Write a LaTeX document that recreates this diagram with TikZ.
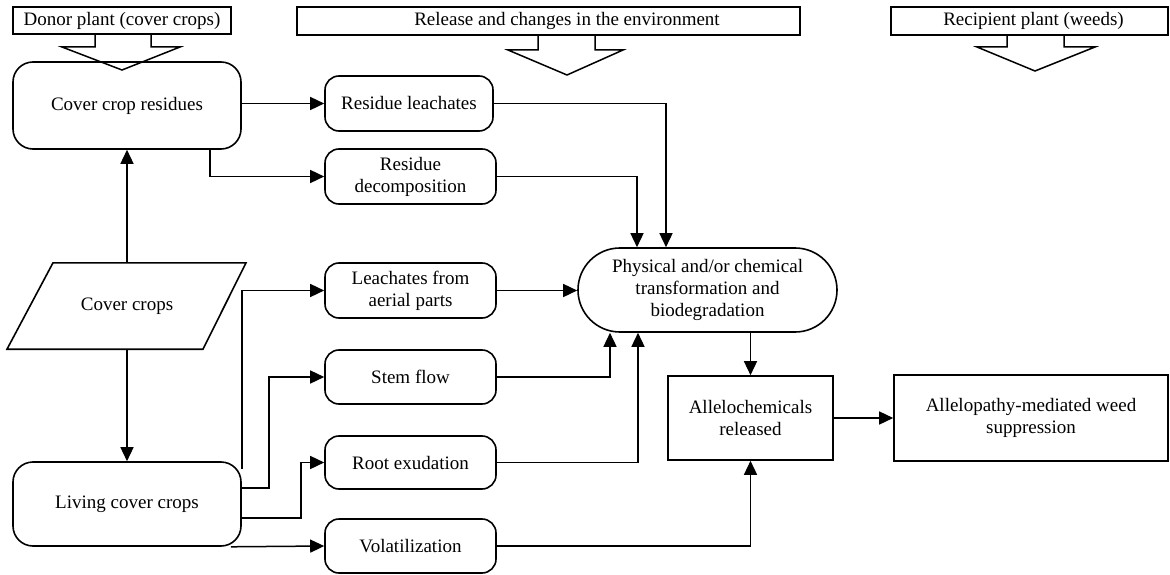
\documentclass[tikz,border=0pt]{standalone}
\usepackage{fontspec}
\setmainfont{Liberation Serif}
\usetikzlibrary{arrows.meta}
\begin{document}
\begin{tikzpicture}[x=1pt,y=-1pt,
  every node/.style={font=\fontsize{19}{22}\selectfont, align=center, inner sep=0pt},
  hdr/.style={draw, line width=1.5pt, rectangle},
  rbox/.style={draw, line width=1.6pt, rounded corners=14pt},
  bigr/.style={draw, line width=1.6pt, rounded corners=20pt},
  sq/.style={draw, line width=1.6pt},
  arr/.style={line width=1.5pt, -{Triangle[length=14pt,width=13pt]}},
  ln/.style={line width=1.5pt}]
\useasboundingbox (0,0) rectangle (1170,575);

% header boxes
\node[hdr, minimum width=218pt, minimum height=27pt] (donor) at (122,20.5) {Donor plant (cover crops)};
\node[hdr, minimum width=503pt, minimum height=28pt] (release) at (548.5,21) {\hspace*{37pt}Release and changes in the environment};
\node[hdr, minimum width=277pt, minimum height=28pt] (recip) at (1029.5,21) {\hspace*{8pt}Recipient plant (weeds)};

% main nodes
\node[bigr, minimum width=228pt, minimum height=87pt] (ccr) at (127,105.5) {Cover crop residues};
\node[rbox, minimum width=168pt, minimum height=55pt] (rl) at (409,103.5) {Residue leachates};
\node[rbox, minimum width=171pt, minimum height=55pt] (rd) at (410.5,176.5) {Residue\\decomposition};
\node[minimum width=150pt, minimum height=86pt] (cc) at (127,306) {Cover crops};
\draw[line width=1.6pt] ([xshift=-74pt]cc.north) -- ([xshift=119pt]cc.north) -- ([xshift=76pt]cc.south) -- ([xshift=-120pt]cc.south) -- cycle;
\node[bigr, minimum width=228pt, minimum height=84pt] (lcc) at (127,504) {Living cover crops};
\node[rbox, minimum width=171pt, minimum height=55pt] (la) at (410.5,290.5) {Leachates from\\aerial parts};
\node[rbox, minimum width=171pt, minimum height=54pt] (sf) at (410.5,377) {Stem flow};
\node[rbox, minimum width=171pt, minimum height=53pt] (re) at (410.5,462.5) {Root exudation};
\node[rbox, minimum width=171pt, minimum height=54pt] (vo) at (410.5,546) {Volatilization};
\node[draw, line width=1.6pt, rounded corners=41.9pt, minimum width=259pt, minimum height=84pt] (phys) at (707.5,290) {Physical and/or chemical\\transformation and\\biodegradation};
\node[sq, minimum width=165pt, minimum height=84pt] (alc) at (750.5,418) {Allelochemicals\\released};
\node[sq, minimum width=274pt, minimum height=86pt] (amw) at (1031,418) {Allelopathy-mediated weed\\suppression};

% header block arrows
\draw[ln] (95,34) -- (95,47) -- (62,47) -- (122,70) -- (180,47) -- (151,47) -- (151,34);
\draw[ln] (538,35) -- (538,50) -- (508,50) -- (567,75) -- (623,50) -- (595,50) -- (595,35);
\draw[ln] (1007,35) -- (1007,47) -- (977,47) -- (1035,71) -- (1095,47) -- (1064,47) -- (1064,35);

% connectors
\draw[arr] (ccr.east |- rl.west) -- (rl.west);
\draw[arr] ([xshift=198pt]ccr.south west) |- (rd.west);
\draw[arr] (rl.east) -| ([xshift=-41.5pt]phys.north);
\draw[arr] (rd.east) -| ([xshift=-70.5pt]phys.north);
\draw[arr] (cc.north) -- (ccr.south);
\draw[arr] (cc.south) -- (lcc.north);
\draw[arr] ([yshift=-8pt]lcc.north east) |- (la.west);
\draw[arr] ([yshift=16pt]lcc.east) -- ++(27pt,0) |- (sf.west);
\draw[arr] ([yshift=-14pt]lcc.east) -- ++(59pt,0) |- (re.west);
\draw[arr] ([xshift=-11pt]lcc.south east) -- (vo.west);
\draw[arr] (la.east) -- (la.east -| phys.west);
\draw[arr] (sf.east) -| ([xshift=-97.5pt]phys.south);
\draw[arr] (re.east) -| ([xshift=-69.5pt]phys.south);
\draw[arr] (alc.north |- phys.south) -- (alc.north);
\draw[arr] (vo.east) -| (alc.south);
\draw[arr] (alc.east) -- (alc.east -| amw.west);
\end{tikzpicture}
\end{document}
